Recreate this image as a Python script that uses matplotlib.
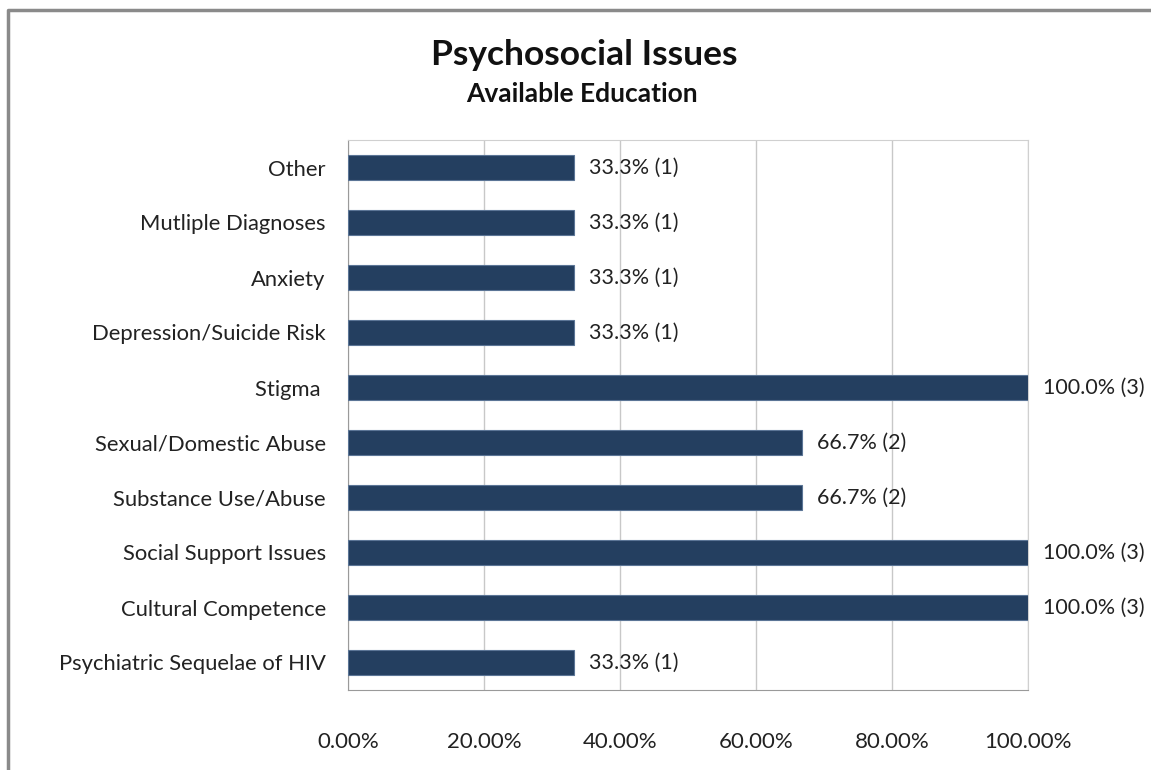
import numpy as np
import matplotlib.pyplot as plt
from matplotlib.lines import Line2D

# --------------------------
# DATA
# --------------------------
categories = ["Psychiatric Sequelae of HIV", "Cultural Competence", "Social Support Issues",
              "Substance Use/Abuse", "Sexual/Domestic Abuse", "Stigma ",
              "Depression/Suicide Risk", "Anxiety", "Mutliple Diagnoses", "Other"]
percent = [33.3, 100.0, 100.0, 66.7, 66.7, 100.0, 33.3, 33.3, 33.3, 33.3]
counts = [1, 3, 3, 2, 2, 3, 1, 1, 1, 1]
xticks = [0, 20, 40, 60, 80, 100]

plt.rcParams['font.family'] = ['Lato', 'DejaVu Sans']

fig = plt.figure(figsize=(11.51, 7.7), dpi=100)
ax = fig.add_axes([348/1151, 1 - 690/770, 680/1151, 550/770])

y = np.arange(len(categories))
ax.barh(y, percent, height=0.44, color="#243F60", edgecolor="#5b7596", linewidth=0.8, zorder=3)

for yi, p, c in zip(y, percent, counts):
    ax.text(p + 2.2, yi, f"{p:.1f}% ({c})", va="center", ha="left", fontsize=15.5,
            color="#222222", clip_on=False)

ax.set_xlim(0, 100)
ax.set_ylim(-0.5, len(categories) - 0.5)
ax.set_yticks(y)
ax.set_yticklabels(categories, fontsize=15.8, color="#222222")
ax.set_xticks(xticks)
ax.set_xticklabels([f"{v:.2f}%" for v in xticks], fontsize=16, color="#222222")
ax.tick_params(axis="both", length=0)
ax.tick_params(axis="x", pad=30)
ax.tick_params(axis="y", pad=16)

ax.grid(axis="x", color="#c8c8c8", linewidth=1, zorder=0)
for side in ["top", "right"]:
    ax.spines[side].set_color("#d0d0d0")
for side in ["left", "bottom"]:
    ax.spines[side].set_color("#9a9a9a")

fig.text(584/1151, 1 - 55/770, "Psychosocial Issues", ha="center", va="center",
         fontsize=25.5, fontweight="bold", color="#111111")
fig.text(582/1151, 1 - 94/770, "Available Education", ha="center", va="center",
         fontsize=19, fontweight="bold", color="#111111")

# outer frame (top and left only)
fig.add_artist(Line2D([8/1151, 8/1151, 1], [0, 1 - 10/770, 1 - 10/770],
                      transform=fig.transFigure, color="#8a8a8a", linewidth=2.5))

fig.savefig("out.png", dpi=100)
